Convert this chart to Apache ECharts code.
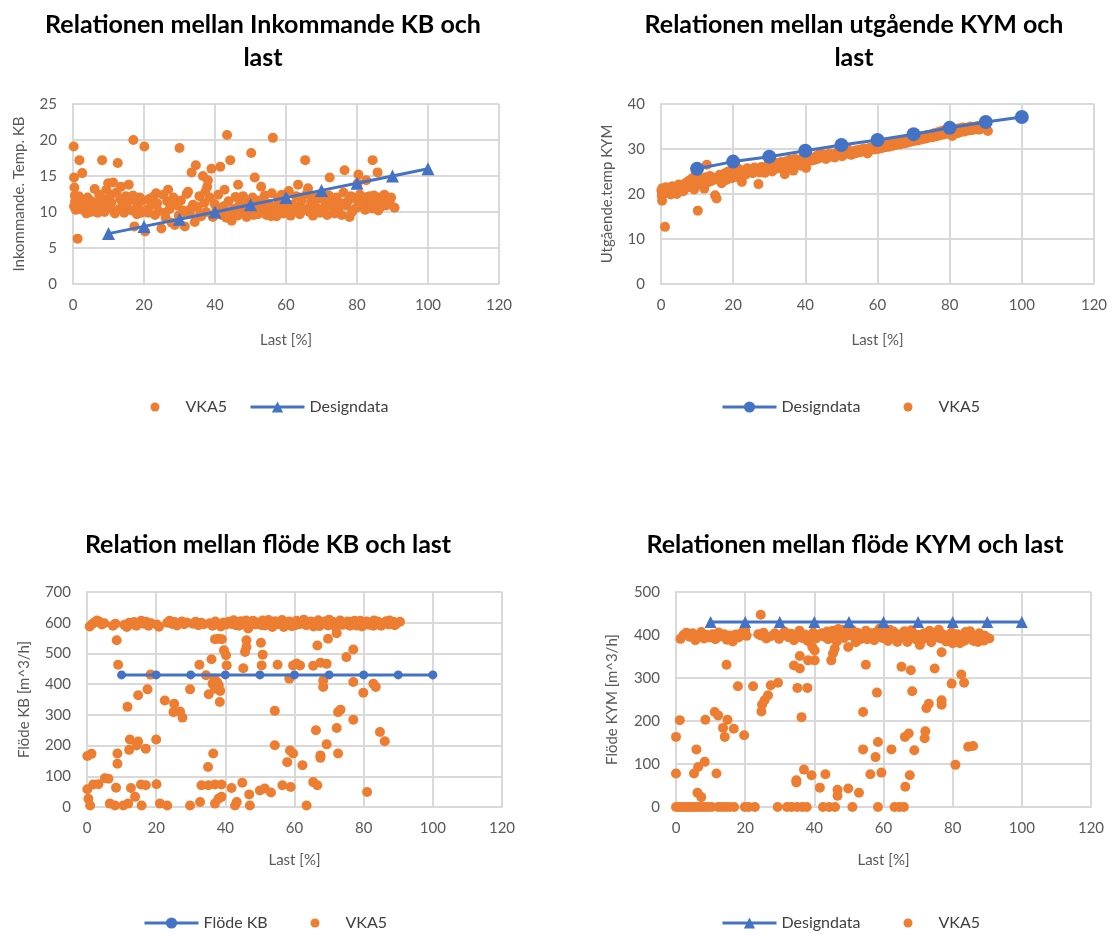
<!DOCTYPE html>
<html><head><meta charset="utf-8">
<script src="https://cdn.jsdelivr.net/npm/echarts@6/dist/echarts.min.js"></script>
<style>html,body{margin:0;padding:0;background:#fff}#c{width:1112px;height:935px}</style>
</head><body><div id="c"></div>
<script>
// ---------- data ----------
const xTicks = { min: 0, max: 120, interval: 20 };
const titles = [
  'Relationen mellan Inkommande KB och\nlast',
  'Relationen mellan utgående KYM och\nlast',
  'Relation mellan flöde KB och last',
  'Relationen mellan flöde KYM och last'
];
const yNames = ['Inkommande. Temp. KB', 'Utgående.temp KYM', 'Flöde KB [m^3/h]', 'Flöde KYM [m^3/h]'];
const xName = 'Last [%]';
const yRanges = [[0, 25, 5], [0, 40, 10], [0, 700, 100], [0, 500, 100]];

const designLoad = [10, 20, 30, 40, 50, 60, 70, 80, 90, 100];
const designInTemp = [7, 8, 9, 10, 11, 12, 13, 14, 15, 16];
const designOutTemp = [25.6, 27.2, 28.3, 29.6, 30.9, 32.0, 33.3, 34.7, 36.0, 37.1];
const flowKB = [430, 430, 430, 430, 430, 430, 430, 430, 430, 430];
const flowKYM = [430, 430, 430, 430, 430, 430, 430, 430, 430, 430];

const vkaInTemp = [
[0.2,19.1],[0.3,14.8],[0.4,13.4],[0.5,12.3],[0.6,11.5],[0.3,10.8],[0.8,10.3],[1.2,11.9],[1.3,6.3],[1.8,17.2],[2.1,10.6],[2.6,15.4],[2.9,11.2],[3.4,10.1],[3.8,9.8],[4.1,12.0],[4.6,10.7],[5.2,11.5],[5.7,10.2],[6.1,13.2],[6.5,11.0],[6.9,9.9],[7.4,12.4],[7.8,10.5],[8.2,17.2],[8.5,11.8],[8.9,10.0],[9.4,13.1],[9.9,14.0],[10.3,10.6],[10.8,11.3],[11.3,14.1],[11.8,9.8],[12.2,12.7],[12.6,16.8],[13.1,10.4],[13.5,13.5],[14.0,11.1],[14.4,9.9],[14.9,12.2],[15.3,10.5],[15.7,13.8],[16.2,11.7],[16.6,10.2],[17.0,20.0],[17.3,8.0],[17.8,11.4],[18.3,10.7],[18.8,12.0],[19.2,9.9],[19.7,11.6],[20.1,19.1],[20.3,7.3],[20.8,10.3],[21.4,11.8],[22.0,10.9],[22.6,12.1],[23.1,9.6],[23.7,11.2],[24.2,10.1],[24.9,7.7],[25.4,12.4],[25.9,9.9],[26.5,11.5],[26.8,13.1],[27.2,10.4],[27.8,8.5],[28.3,12.0],[28.7,8.2],[29.3,10.9],[29.8,9.5],[30.0,18.9],[30.4,11.6],[31.0,10.2],[31.5,8.0],[32.0,12.5],[32.4,12.8],[32.9,9.8],[33.4,15.5],[33.8,11.0],[34.3,8.6],[34.6,16.5],[35.1,10.7],[35.6,12.2],[36.1,9.4],[36.6,15.0],[37.0,11.3],[37.5,10.0],[37.8,13.5],[38.0,14.4],[38.5,12.0],[39.0,16.0],[39.4,9.3],[39.9,11.1],[40.4,10.3],[40.9,12.4],[41.5,16.3],[41.9,9.6],[42.4,10.8],[42.7,13.1],[43.2,9.2],[43.4,20.7],[43.8,11.5],[44.3,17.2],[44.7,8.8],[45.2,10.4],[45.8,12.1],[46.3,9.5],[46.5,13.8],[46.9,11.0],[47.4,9.9],[47.9,12.2],[48.4,10.6],[48.9,9.3],[49.4,11.4],[49.9,10.1],[50.2,18.2],[50.6,12.0],[51.2,14.8],[51.6,10.9],[52.1,9.7],[52.6,11.6],[53.0,13.5],[53.5,10.3],[54.0,12.3],[54.5,9.6],[55.0,11.1],[55.5,10.0],[56.0,12.6],[56.3,20.3],[56.8,10.7],[57.3,9.4],[57.8,11.8],[58.3,10.2],[58.8,12.4],[59.3,9.8],[59.8,11.3],[60.3,10.5],[60.8,12.9],[61.3,9.5],[61.8,11.0],[62.3,10.1],[62.8,12.2],[63.3,10.7],[63.4,13.8],[63.9,9.7],[64.4,11.6],[64.9,10.4],[65.4,17.2],[65.8,12.5],[66.2,13.3],[66.6,10.0],[67.1,11.4],[67.6,9.5],[68.1,12.1],[68.6,10.6],[69.1,11.8],[69.6,9.9],[70.1,12.6],[70.6,10.3],[71.1,11.0],[71.6,9.6],[72.1,12.3],[72.3,14.8],[72.7,10.8],[73.2,11.7],[73.7,9.8],[74.2,12.0],[74.7,10.4],[75.2,11.3],[75.7,9.6],[76.2,12.7],[76.5,15.8],[76.9,10.9],[77.4,11.5],[77.9,9.3],[78.3,12.2],[78.8,10.2],[79.3,11.9],[79.8,10.6],[80.2,14.0],[80.4,15.2],[80.8,12.4],[81.3,10.8],[81.8,11.6],[82.3,10.3],[82.6,14.4],[82.8,12.1],[83.3,10.9],[83.8,11.7],[84.3,10.5],[84.4,17.2],[84.8,12.3],[85.3,11.0],[85.8,15.5],[86.2,12.0],[86.7,10.7],[87.2,11.5],[87.7,12.4],[88.2,10.9],[88.7,11.9],[89.2,11.3],[90.6,10.6],
[0.9,11.0],[1.6,12.2],[2.4,10.4],[3.1,11.6],[5.0,10.0],[6.3,10.6],[7.1,11.4],[9.1,10.9],[10.6,12.4],[11.6,10.1],[13.3,11.8],[15.1,10.9],[16.9,12.3],[18.0,9.7],[21.2,9.9],[23.4,12.6],[26.1,9.2],[28.0,11.1],[30.7,9.9],[33.1,10.4],[35.8,9.7],[37.3,12.8],[40.1,9.8],[44.1,10.0],[47.2,10.6],[50.9,9.6],[53.8,11.0],[55.8,9.4],[58.6,11.0],[61.1,10.8],[64.0,12.0],[66.9,10.8],[69.4,10.3],[71.4,12.0],[73.9,10.6],[76.0,11.1],[78.6,10.0],[81.1,11.1],[83.6,12.2],[86.0,10.2],[87.9,11.0],[89.6,12.0]
];

const vkaOutTemp = [
[0.1,20.8],[0.2,19.6],[0.3,18.5],[0.4,21.3],[0.6,20.1],[1.1,12.7],[1.0,20.6],[1.4,21.5],[1.8,20.2],[2.3,21.0],[2.7,19.9],[3.1,21.7],[3.5,20.5],[4.0,21.3],[4.4,20.0],[4.9,22.1],[5.3,21.0],[5.8,21.8],[6.2,20.6],[6.7,22.4],[7.1,21.4],[7.6,22.9],[8.0,21.7],[8.5,23.4],[8.9,22.2],[9.2,21.0],[9.5,24.2],[10.0,22.6],[10.2,16.3],[10.6,23.5],[11.0,22.1],[11.5,23.0],[12.0,21.2],[12.4,23.7],[12.7,26.5],[13.1,22.6],[13.6,24.0],[14.0,22.9],[14.5,23.6],[15.0,19.7],[15.4,19.0],[15.8,23.2],[16.3,24.3],[16.8,22.4],[17.2,23.8],[17.7,24.6],[18.1,23.1],[18.6,25.0],[19.1,24.1],[19.6,23.5],[20.1,25.3],[20.5,24.4],[21.0,23.8],[21.5,25.6],[22.0,24.7],[22.4,22.7],[22.9,25.1],[23.4,24.3],[23.9,25.7],[24.4,24.9],[24.9,25.4],[25.4,24.6],[25.9,25.9],[26.4,25.1],[27.0,22.2],[27.3,24.8],[27.8,26.0],[28.3,25.3],[28.8,24.7],[29.3,26.2],[29.8,25.5],[30.3,26.6],[30.8,25.0],[31.3,26.1],[31.8,25.6],[32.3,26.9],[32.8,25.8],[33.3,27.1],[33.8,26.4],[34.3,24.4],[34.8,27.3],[35.2,26.0],[35.7,27.6],[36.2,26.7],[36.7,25.2],[37.2,27.8],[37.7,26.9],[38.2,27.4],[38.7,26.3],[39.2,28.0],[39.7,27.1],[40.2,25.8],[40.7,27.7],[41.2,28.3],[41.7,27.4],[42.2,28.0],[42.7,27.6],[43.2,28.5],[43.7,27.9],[44.2,29.1],[44.7,28.2],[45.2,28.7],[45.7,27.8],[46.2,28.4],[46.7,29.0],[47.2,28.3],[47.7,28.8],[48.2,28.1],[48.7,29.2],[49.2,28.6],[49.7,29.0],[50.2,28.4],[50.7,29.4],[51.2,28.9],[51.7,30.0],[52.2,29.1],[52.7,28.7],[53.2,29.5],[53.7,29.0],[54.2,29.7],[54.7,29.2],[55.2,29.9],[55.7,29.4],[56.2,30.1],[56.7,29.6],[57.2,29.0],[57.7,30.2],[58.2,29.8],[58.7,30.4],[59.2,29.9],[59.7,30.6],[60.2,30.0],[60.7,30.7],[61.2,30.2],[61.7,30.9],[62.2,30.4],[62.7,31.0],[63.2,30.5],[63.7,31.2],[64.2,30.7],[64.7,31.4],[65.2,30.9],[65.7,31.6],[66.2,31.0],[66.7,31.8],[67.2,31.2],[67.7,32.0],[68.2,31.4],[68.7,32.3],[69.2,31.6],[69.7,32.5],[70.2,31.8],[70.7,32.6],[71.2,31.9],[71.7,32.8],[72.2,32.1],[72.7,32.9],[73.2,32.3],[73.7,33.1],[74.2,32.5],[74.7,33.2],[75.2,32.6],[75.7,33.5],[76.2,32.8],[76.7,33.7],[77.2,33.0],[77.7,34.0],[78.2,33.2],[78.7,34.2],[79.2,33.4],[79.7,34.4],[80.2,33.6],[80.7,32.9],[81.2,33.9],[81.7,34.5],[82.2,33.5],[82.7,34.6],[83.2,33.8],[83.7,34.8],[84.2,33.9],[84.7,34.7],[85.2,34.1],[85.7,35.0],[86.2,34.2],[86.7,34.9],[87.2,34.4],[87.7,35.1],[88.2,34.3],[88.7,34.8],[89.2,34.6],[90.6,34.0]
];

const vkaFlowKB = [
[0.8,588],[1.5,596],[2.2,601],[2.9,607],[3.6,603],[4.3,594],[5.0,598],[7.5,590],[8.2,597],[10.8,593],[11.5,586],[12.2,600],[12.9,595],[13.6,602],[14.3,590],[15.0,599],[15.7,606],[16.4,597],[17.1,603],[17.8,590],[18.5,598],[20.2,594],[20.8,587],[23.2,600],[23.9,606],[24.6,596],[25.3,602],[26.0,591],[26.7,598],[27.4,604],[28.1,595],[28.8,601],[30.6,597],[31.4,603],[32.2,592],[33.0,600],[33.8,595],[35.5,598],[36.3,590],[37.1,604],[37.9,596],[38.7,588],[39.5,601],[40.3,594],[41.0,603],[41.7,597],[42.4,608],[43.1,592],[43.8,600],[44.5,605],[45.2,596],[45.9,602],[46.6,589],[47.3,598],[48.0,606],[48.7,594],[49.4,601],[50.1,597],[50.8,607],[51.5,591],[52.2,603],[52.9,598],[53.6,586],[54.3,605],[55.0,595],[55.7,601],[56.4,609],[57.1,593],[57.8,600],[58.5,604],[59.2,589],[59.9,598],[60.6,606],[61.3,595],[62.0,601],[62.7,610],[63.4,592],[64.1,599],[64.8,604],[65.5,588],[66.2,597],[66.9,608],[67.6,594],[68.3,600],[69.0,605],[69.7,591],[70.4,598],[71.1,603],[71.8,587],[72.5,600],[73.2,607],[73.9,593],[74.6,599],[75.3,604],[76.0,590],[76.7,597],[77.4,606],[78.1,594],[78.8,601],[79.5,588],[80.2,598],[80.9,604],[81.6,593],[82.3,600],[83.0,607],[83.7,595],[84.4,601],[85.1,590],[85.8,598],[86.5,605],[87.2,594],[87.9,600],[88.6,603],[89.3,596],[90.5,603],
[42.0,596],[44.0,590],[46.0,607],[48.3,600],[50.5,592],[52.5,609],[54.8,599],[56.9,586],[58.0,596],[60.2,592],[61.8,597],[63.0,604],[65.0,600],[67.2,589],[68.8,597],[70.0,610],[71.5,594],[73.6,600],[75.0,596],[76.3,603],[77.9,591],[79.0,606],[81.2,597],[82.8,590],[84.0,604],[85.5,597],[87.5,607],[89.0,592],
[8.6,543],[9.0,463],[18.4,431],[11.7,326],[14.8,364],[17.5,383],[22.5,347],[25.2,336],[25.0,309],[26.9,311],[27.6,291],[29.8,383],[32.5,463],[34.4,429],[35.2,367],[36.0,481],[37.0,546],[38.0,548],[39.0,546],[39.6,510],[40.2,494],[40.4,461],[36.3,401],[37.0,385],[37.6,407],[38.1,396],[38.5,378],[38.4,342],[36.8,418],[45.2,452],[45.7,505],[46.1,521],[46.1,543],[46.6,581],[50.3,535],[50.8,496],[50.5,461],[55.1,463],[54.3,313],[54.3,201],[58.5,418],[59.6,461],[60.6,467],[61.6,461],[58.7,184],[59.6,174],[57.9,146],[62.3,136],[65.4,460],[67.5,470],[69.3,466],[66.6,526],[69.7,548],[72.2,566],[68.3,412],[68.3,391],[66.2,250],[69.3,204],[67.5,168],[67.5,160],[72.6,174],[72.2,257],[72.6,309],[73.3,317],[77.0,284],[75.0,488],[77.0,513],[77.0,407],[79.9,372],[82.8,401],[83.5,391],[84.7,244],[86.1,214],[81.0,49],[8.8,174],[8.8,141],[12.4,220],[14.8,213],[14.3,200],[17.0,190],[12.2,186],[20.0,220],[0.1,166],[1.3,173],[35.0,130],[36.5,174],
[1.8,73],[3.3,74],[5.2,94],[6.2,92],[8.4,63],[12.7,62],[15.6,73],[17.0,71],[20.1,74],[33.1,71],[35.1,71],[37.0,73],[38.9,73],[41.8,62],[44.9,79],[46.9,41],[50.0,54],[51.4,60],[53.2,47],[56.5,71],[58.9,65],[65.4,81],[66.6,71],
[0.1,58],[0.4,27],[0.9,5],[6.6,11],[8.1,5],[10.5,5],[11.9,11],[13.9,33],[15.8,5],[21.1,11],[23.2,5],[29.8,5],[32.7,16],[37.0,11],[38.0,27],[38.9,33],[42.8,5],[43.3,16],[47.1,5],[63.5,5]
];

const vkaFlowKYM = [
[1.3,391],[2.2,400],[3.0,405],[3.9,396],[4.8,404],[5.6,388],[6.4,398],[7.3,407],[8.1,392],[8.9,400],[9.8,394],[10.6,402],[11.4,390],[12.3,406],[13.1,397],[13.9,402],[14.7,389],[15.6,399],[16.4,385],[17.2,401],[18.1,394],[19.0,405],[20.0,411],[20.4,398],[23.8,402],[24.5,399],[25.3,405],[26.1,392],[27.4,397],[28.6,404],[29.8,391],[30.6,399],[31.4,408],[32.5,395],[33.3,403],[34.1,388],[34.9,398],[35.7,410],[36.5,393],[37.3,401],[38.1,386],[38.9,397],[39.7,406],[40.5,392],[41.3,399],[42.1,404],[42.9,396],[43.7,408],[44.5,403],[45.3,410],[46.1,398],[46.9,414],[47.7,402],[48.5,393],[49.3,407],[50.1,399],[50.9,412],[51.7,395],[52.5,405],[53.3,390],[54.1,401],[54.9,410],[55.7,396],[56.5,404],[57.3,388],[58.1,399],[58.9,415],[59.7,393],[60.5,403],[61.3,386],[62.1,398],[62.9,408],[63.7,391],[64.5,401],[65.3,395],[66.1,409],[66.9,384],[67.7,398],[68.5,405],[69.3,390],[70.1,400],[70.9,386],[71.7,404],[72.5,394],[73.3,410],[74.1,389],[74.9,399],[75.7,405],[76.5,392],[77.3,401],[78.1,385],[78.9,397],[79.7,406],[80.5,390],[81.3,402],[82.1,381],[82.9,396],[83.7,407],[84.5,391],[85.3,400],[86.1,386],[86.9,397],[87.7,404],[88.5,390],[89.3,398],[90.6,392],
[44.0,390],[46.5,385],[48.0,412],[52.0,383],[55.3,390],[57.8,406],[60.0,398],[61.8,412],[64.0,384],[66.5,392],[68.0,411],[70.5,377],[72.0,398],[73.8,383],[76.0,412],[77.8,396],[80.0,381],[81.8,393],[83.3,386],[85.0,409],[87.3,384],[89.0,387],
[24.5,447],[14.6,331],[34.1,329],[35.8,322],[35.8,351],[38.2,341],[40.1,341],[39.4,372],[40.1,364],[44.9,341],[45.4,357],[45.9,368],[49.8,372],[54.9,331],[65.2,326],[67.9,318],[74.8,322],[76.8,360],[17.9,281],[22.3,281],[27.4,283],[29.5,289],[26.6,260],[25.6,248],[24.9,238],[24.7,222],[35.1,277],[38.0,277],[36.3,209],[58.1,266],[54.1,221],[68.3,269],[72.4,230],[73.1,240],[76.8,248],[76.8,238],[79.7,287],[82.5,308],[83.3,289],[72.1,176],[71.9,160],[66.2,163],[67.3,171],[68.9,132],[58.4,151],[57.7,116],[54.1,134],[62.3,134],[67.6,74],[66.3,47],[80.8,98],[84.5,140],[85.9,142],[59.4,80],[56.2,76],[1.1,202],[0,163],[0,78],[8.5,203],[11.2,221],[12.2,213],[14.9,203],[13.6,184],[14.1,163],[16.7,182],[19.7,167],[5.9,134],[6.4,93],[8.3,105],[5.2,78],[11.7,78],[6.2,33],[7.3,23],[37.0,87],[39.2,74],[34.8,62],[34.8,57],[43.2,76],[41.6,45],[46.7,40],[46.7,26],[49.8,43],[52.9,33],
[0,0],[0.8,0],[1.6,0],[2.4,0],[3.2,0],[4.0,0],[4.8,0],[5.6,0],[6.4,0],[7.3,0],[8.2,0],[9.2,0],[10.3,0],[12.2,0],[13.3,0],[14.4,0],[15.5,0],[16.8,0],[19.9,0],[21.0,0],[22.8,0],[29.4,0],[32.1,0],[33.4,0],[35.0,0],[36.5,0],[37.8,0],[42.5,0],[44.3,0],[46.0,0],[51.0,0],[58.4,0],[63.2,0],[64.6,0],[65.9,0]
];

// ---------- chart ----------
const BLUE = '#4472C4', ORANGE = '#ED7D31', GRID = '#d9d9d9', TXT = '#595959';
const FONT = 'Lato, "Open Sans", sans-serif';
const pair = (xs, ys) => xs.map((x, i) => [x, ys[i]]);

const grids = [
  { left: 73, top: 104, width: 426, height: 180 },
  { left: 661, top: 104, width: 433, height: 180 },
  { left: 87, top: 592, width: 415, height: 215 },
  { left: 676, top: 592, width: 415, height: 215 }
];
const titlePos = [[258, 3], [849, 3], [263, 523], [850, 523]];
const yNameGap = [46, 46, 55, 56];

// legend entries: [series name, kind, anchor x (line start or dot centre), centre y]
const legendItems = [
  ['VKA5', 'dot', 155, 406], ['Designdata|1', 'line', 249, 406],
  ['Designdata|2', 'line', 721, 406], ['VKA5', 'dot', 908, 406],
  ['Flöde KB', 'line', 143, 922], ['VKA5', 'dot', 315, 922],
  ['Designdata|4', 'line', 721, 922], ['VKA5', 'dot', 908, 922]
];

const option = {
  animation: false,
  backgroundColor: '#fff',
  textStyle: { fontFamily: FONT },
  title: titles.map((t, i) => ({
    text: t, left: titlePos[i][0], top: titlePos[i][1], textAlign: 'center',
    textStyle: { fontFamily: FONT, fontWeight: 'bold', fontSize: 25, color: '#000', lineHeight: 33 }
  })),
  grid: grids,
  xAxis: grids.map((g, i) => ({
    gridIndex: i, type: 'value', min: xTicks.min, max: xTicks.max, interval: xTicks.interval,
    name: xName, nameLocation: 'middle', nameGap: i < 2 ? 49 : 46,
    nameTextStyle: { fontFamily: FONT, fontSize: 15, color: TXT },
    axisLine: { show: true, lineStyle: { color: GRID, width: 2 } },
    axisTick: { show: false },
    axisLabel: { color: TXT, fontSize: 15, margin: 14, fontFamily: FONT },
    splitLine: { show: true, lineStyle: { color: GRID, width: 2 } }
  })),
  yAxis: grids.map((g, i) => ({
    gridIndex: i, type: 'value', min: yRanges[i][0], max: yRanges[i][1], interval: yRanges[i][2],
    name: yNames[i], nameLocation: 'middle', nameGap: yNameGap[i],
    nameTextStyle: { fontFamily: FONT, fontSize: 15, color: TXT },
    axisLine: { show: true, lineStyle: { color: GRID, width: 2 } },
    axisTick: { show: false },
    axisLabel: { color: TXT, fontSize: 15, margin: 16, fontFamily: FONT },
    splitLine: { show: true, lineStyle: { color: GRID, width: 2 } }
  })),
  legend: legendItems.map(([n, kind, x, cy]) => {
    const isLine = kind === 'line';
    const h = isLine ? 14 : 9;
    return {
      data: [n], left: isLine ? x : x - h / 2, top: cy - h / 2 - (isLine ? 0 : 2.5), padding: 0,
      itemWidth: isLine ? 54 : 9, itemHeight: h,
      formatter: s => s.split('|')[0],
      selectedMode: false,
      lineStyle: { width: 3 },
      textStyle: { fontFamily: FONT, fontSize: 16, color: '#404040', padding: isLine ? [0, 0, 0, 0] : [0, 0, 0, 21] }
    };
  }),
  series: [
    { name: 'VKA5', type: 'scatter', xAxisIndex: 0, yAxisIndex: 0, data: vkaInTemp,
      symbolSize: 10, itemStyle: { color: ORANGE, opacity: 1 } },
    { name: 'Designdata|1', type: 'line', xAxisIndex: 0, yAxisIndex: 0, data: pair(designLoad, designInTemp),
      symbol: 'triangle', symbolSize: 13, lineStyle: { color: BLUE, width: 3 }, itemStyle: { color: BLUE } },

    { name: 'Designdata|2', type: 'line', xAxisIndex: 1, yAxisIndex: 1, data: pair(designLoad, designOutTemp),
      symbol: 'circle', symbolSize: 14, lineStyle: { color: BLUE, width: 3 }, itemStyle: { color: BLUE } },
    { name: 'VKA5', type: 'scatter', xAxisIndex: 1, yAxisIndex: 1, data: vkaOutTemp,
      symbolSize: 10, itemStyle: { color: ORANGE, opacity: 1 } },

    { name: 'Flöde KB', type: 'line', xAxisIndex: 2, yAxisIndex: 2, data: pair(designLoad, flowKB),
      symbol: 'circle', symbolSize: 9, lineStyle: { color: BLUE, width: 3 }, itemStyle: { color: BLUE } },
    { name: 'VKA5', type: 'scatter', xAxisIndex: 2, yAxisIndex: 2, data: vkaFlowKB,
      symbolSize: 10, itemStyle: { color: ORANGE, opacity: 1 } },

    { name: 'Designdata|4', type: 'line', xAxisIndex: 3, yAxisIndex: 3, data: pair(designLoad, flowKYM),
      symbol: 'triangle', symbolSize: 12, lineStyle: { color: BLUE, width: 3 }, itemStyle: { color: BLUE } },
    { name: 'VKA5', type: 'scatter', xAxisIndex: 3, yAxisIndex: 3, data: vkaFlowKYM,
      symbolSize: 10, itemStyle: { color: ORANGE, opacity: 1 } }
  ]
};

const chart = echarts.init(document.getElementById('c'), null, { renderer: 'canvas' });
chart.setOption(option);
</script>
</body></html>
